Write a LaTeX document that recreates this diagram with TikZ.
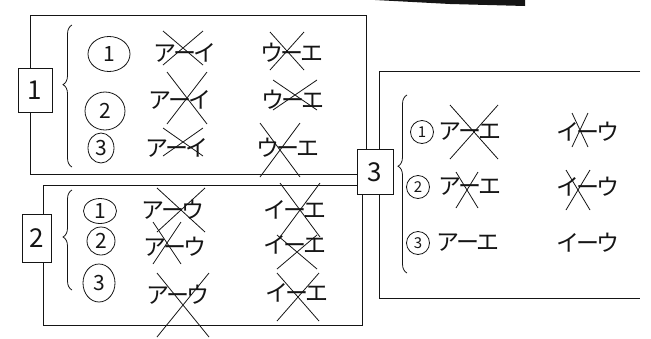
\documentclass[tikz,border=0pt]{standalone}
\usepackage{fontspec}
\newfontfamily\jpfont{Noto Sans CJK JP}
\usetikzlibrary{decorations.pathreplacing, shapes.geometric, calc}
\definecolor{ink}{HTML}{151515}
\tikzset{
  font=\jpfont\fontsize{23}{26}\selectfont,
  %
  frame/.style={draw=ink, line width=0.9pt, inner sep=0pt},
  openframe/.style={inner sep=0pt},
  tagbox/.style={draw=ink, line width=0.9pt, fill=white, inner sep=0pt,
                 text=ink, font=\jpfont\fontsize{26}{28}\selectfont},
  %
  num/.style={ellipse, draw=ink, line width=0.8pt, inner sep=0pt,
              minimum width=36pt, minimum height=34pt, text=ink,
              font=\jpfont\fontsize{21}{22}\selectfont},
  numsm/.style={num, minimum width=23pt, minimum height=23pt,
                font=\jpfont\fontsize{15}{16}\selectfont},
  pair/.style={inner sep=0pt, text=ink},
  %
  line/.style={draw=ink, line width=0.9pt},
  strike/.style={draw=ink, line width=0.8pt},
  curly/.style={draw=ink, line width=0.8pt, decorate,
                decoration={brace, amplitude=9pt}},
}
% cross drawn over a pair: node, shift x, shift y, half width, half height
\newcommand{\crossx}[5]{%
  \draw[strike] (#1.center) ++(#2,#3) +(-#4,-#5) -- +(#4,#5) +(-#4,#5) -- +(#4,-#5);}
% a pair of letters joined by a short dash
\newcommand{\duo}[2]{#1\kern-3ptー\kern-3pt#2}

\begin{document}
\begin{tikzpicture}[x=1pt, y=-1pt]
\useasboundingbox (0,0) rectangle (651,338);

% scan edge at the top
\fill[ink] (375,0) -- (525,0) -- (525,6) -- (450,4) -- cycle;

% =========================================================================
% 1
\node[frame, minimum width=336pt, minimum height=159pt] (box1) at (198,94.5) {};
\node[tagbox, minimum width=34pt, minimum height=44pt] (tag1) at (35,90) {1};
\coordinate (b1top) at (72,25);
\coordinate (b1bot) at (72,167);
\draw[curly, decoration={aspect=0.58}] (b1bot) -- (b1top);

\node[num, minimum width=42pt, minimum height=35pt] (n11) at (109,54) {1};
\node[num, minimum width=40pt, minimum height=38pt] (n12) at (105,111) {2};
\node[num, minimum width=26pt, minimum height=30pt] (n13) at (101,148) {3};

\node[pair] (p11) at (185,53) {\duo{ア}{イ}};
\node[pair] (p12) at (292,53) {\duo{ウ}{エ}};
\node[pair] (p21) at (180,100) {\duo{ア}{イ}};
\node[pair] (p22) at (293,100) {\duo{ウ}{エ}};
\node[pair] (p31) at (177,148) {\duo{ア}{イ}};
\node[pair] (p32) at (288,148) {\duo{ウ}{エ}};

\crossx{p11}{-2}{-5}{20}{17}
\crossx{p12}{-5}{-2}{17}{19}
\crossx{p21}{7}{-2}{20}{26}
\crossx{p22}{2}{-5}{22}{15}
\crossx{p31}{6}{-6}{20}{14}
\crossx{p32}{-8}{2}{20}{27}

% =========================================================================
% 2
\node[frame, minimum width=319pt, minimum height=140pt] (box2) at (202.5,255) {};
\node[tagbox, minimum width=29pt, minimum height=48pt] (tag2) at (37,238) {2};
\coordinate (b2top) at (72,190);
\coordinate (b2bot) at (72,290);
\draw[curly, decoration={aspect=0.53}] (b2bot) -- (b2top);

\node[num, minimum width=33pt, minimum height=25pt] (n21) at (100,211) {1};
\node[num, minimum width=28pt, minimum height=28pt] (n22) at (101,241) {2};
\node[num, minimum width=32pt, minimum height=38pt] (n23) at (99,283) {3};

\node[pair] (q11) at (173,210) {\duo{ア}{ウ}};
\node[pair] (q12) at (295,210) {\duo{イ}{エ}};
\node[pair] (q21) at (175,247) {\duo{ア}{ウ}};
\node[pair] (q22) at (295,245) {\duo{イ}{エ}};
\node[pair] (q31) at (178,295) {\duo{ア}{ウ}};
\node[pair] (q32) at (297,293) {\duo{イ}{エ}};

\crossx{q11}{8}{0}{24}{22}
\crossx{q12}{5}{0}{20}{27}
\crossx{q21}{-8}{-4}{14}{21}
\crossx{q22}{2}{7}{20}{17}
\crossx{q31}{5}{10}{26}{32}
\crossx{q32}{1}{4}{21}{24}

% =========================================================================
% 3
\node[openframe, minimum width=260pt, minimum height=226pt] (box3) at (510,185) {};
\draw[line] (box3.north east) -- (box3.north west) -- (box3.south west) -- (box3.south east);
\node[tagbox, minimum width=36pt, minimum height=45pt] (tag3) at (375,172) {3};
\coordinate (b3top) at (407,95);
\coordinate (b3bot) at (407,273);
\draw[curly, decoration={aspect=0.6}] (b3bot) -- (b3top);

\node[numsm] (n31) at (422,132) {1};
\node[numsm] (n32) at (418,187) {2};
\node[numsm] (n33) at (418,243) {3};

\node[pair] (r11) at (470,132) {\duo{ア}{エ}};
\node[pair] (r12) at (588,132) {\duo{イ}{ウ}};
\node[pair] (r21) at (470,187) {\duo{ア}{エ}};
\node[pair] (r22) at (588,187) {\duo{イ}{ウ}};
\node[pair] (r31) at (468,243) {\duo{ア}{エ}};
\node[pair] (r32) at (588,243) {\duo{イ}{ウ}};

\crossx{r11}{4}{0}{24}{27}
\crossx{r12}{-8}{-2}{8}{17}
\crossx{r21}{-3}{3}{11}{18}
\crossx{r22}{-10}{3}{12}{20}

\end{tikzpicture}
\end{document}
